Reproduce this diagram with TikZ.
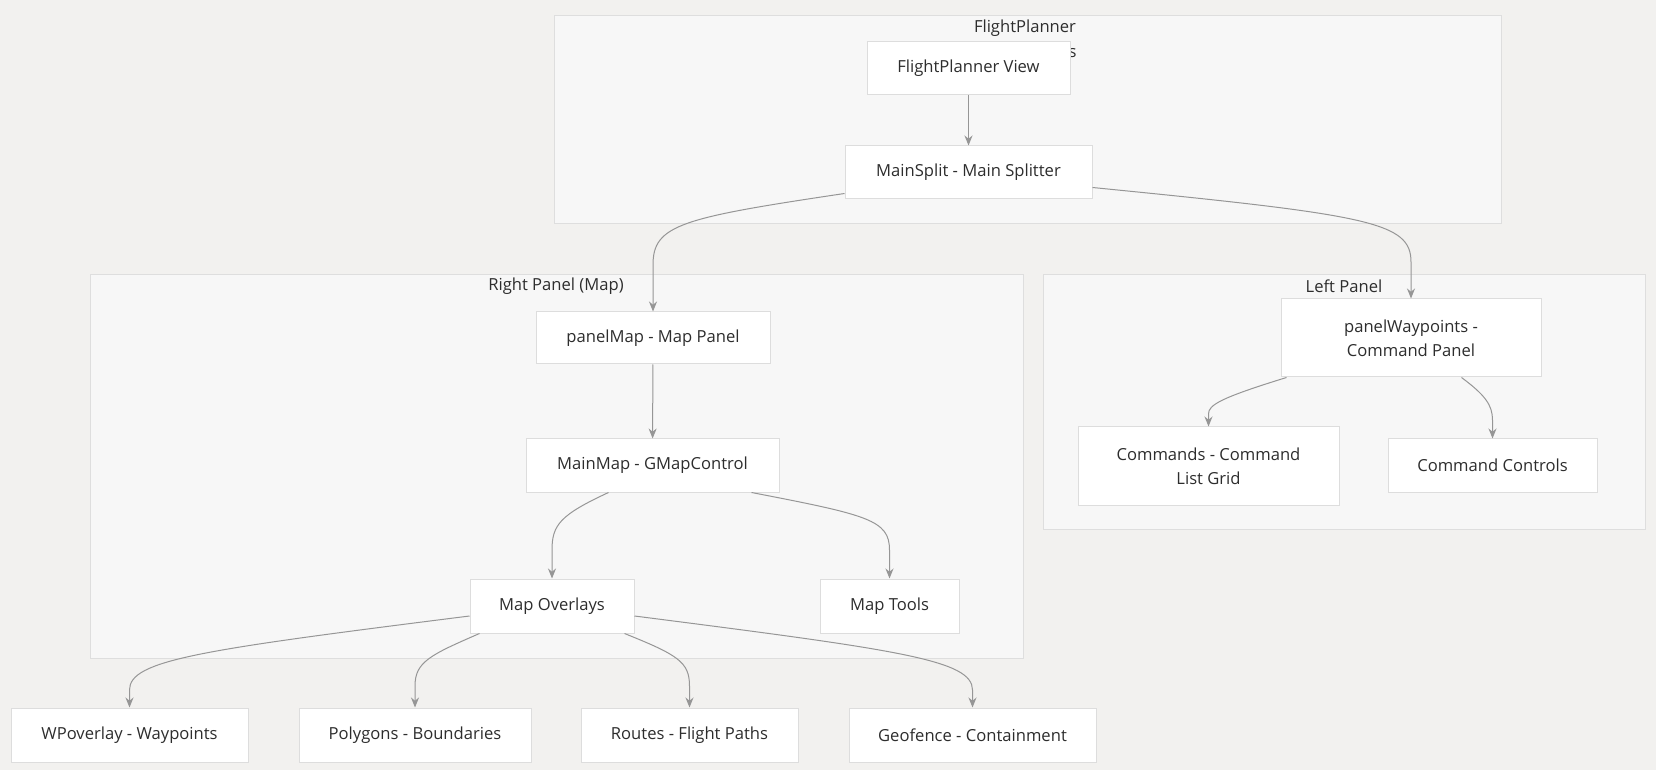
\documentclass[tikz,border=0pt]{standalone}
\usepackage{fontspec}
\setmainfont{Open Sans}
\usetikzlibrary{arrows.meta}
\definecolor{bgc}{RGB}{242,241,239}
\definecolor{clfill}{RGB}{247,247,247}
\definecolor{clline}{RGB}{222,222,222}
\definecolor{ndline}{RGB}{221,221,221}
\definecolor{edgec}{RGB}{150,150,150}
\definecolor{txt}{RGB}{45,45,45}
\tikzset{
  box/.style={draw=ndline, fill=white, line width=0.5pt, inner sep=0pt, align=center,
    text=txt, font=\fontsize{8.3}{12}\selectfont},
  cluster/.style={draw=clline, fill=clfill, line width=0.5pt},
  ctitle/.style={text=txt, font=\fontsize{8.3}{12}\selectfont, inner sep=0pt},
  edge/.style={draw=edgec, line width=0.5pt, -{Stealth[length=5pt,width=4pt]}},
}
\begin{document}
\begin{tikzpicture}[x=0.5pt,y=-0.5pt]
\fill[bgc] (0,0) rectangle (1656,770);
\useasboundingbox (0,0) rectangle (1656,770);
% clusters
\draw[cluster] (554,16) rectangle (1501,224);
\draw[cluster] (90,275) rectangle (1023,658);
\draw[cluster] (1043,275) rectangle (1645,529);
\node[ctitle] (tfp) at (1025,28) {FlightPlanner};
\node[ctitle, anchor=east] (tfp2) at (1077,53) {Components};
\node[ctitle] (trp) at (556,286) {Right Panel (Map)};
\node[ctitle] (tlp) at (1344,286) {Left Panel};
% nodes
\node[box, minimum width=101.5pt, minimum height=26.5pt] (view) at (968.5,68.5) {FlightPlanner View};
\node[box, minimum width=123.5pt, minimum height=26.5pt] (split) at (968.5,172.5) {MainSplit - Main Splitter};
\node[box, minimum width=117pt, minimum height=26pt] (pmap) at (653,338) {panelMap - Map Panel};
\node[box, minimum width=126.5pt, minimum height=26.5pt] (mmap) at (652.5,465.5) {MainMap - GMapControl};
\node[box, minimum width=82pt, minimum height=27pt] (ovl) at (552,606) {Map Overlays};
\node[box, minimum width=69.5pt, minimum height=27pt] (tools) at (889.5,606) {Map Tools};
\node[box, minimum width=118.5pt, minimum height=27pt] (wp) at (129.5,735) {WPoverlay - Waypoints};
\node[box, minimum width=116pt, minimum height=27pt] (poly) at (415,735) {Polygons - Boundaries};
\node[box, minimum width=108.5pt, minimum height=27pt] (routes) at (689.5,735) {Routes - Flight Paths};
\node[box, minimum width=123.5pt, minimum height=27pt] (geo) at (972.5,735) {Geofence - Containment};
\node[box, minimum width=130pt, minimum height=39pt] (pwp) at (1411,338) {panelWaypoints -\\Command Panel};
\node[box, minimum width=130.5pt, minimum height=39pt] (cmds) at (1208.5,466) {Commands - Command\\List Grid};
\node[box, minimum width=104.5pt, minimum height=26.5pt] (ctrls) at (1492.5,465.5) {Command Controls};
% edges
\draw[edge] (view) -- (split);
\draw[edge] (split.south west) ++(0,-6) .. controls (680,218) and (653,225) .. (653,265) -- (pmap.north);
\draw[edge] (split.south east) ++(0,-12) .. controls (1370,215) and (1411,222) .. (1411,262) -- (pwp.north);
\draw[edge] (pmap) -- (mmap);
\draw[edge] (mmap.south) ++(-44,0) .. controls (560,515) and (552,525) .. (552,550) -- (ovl.north);
\draw[edge] (mmap.south) ++(99,0) .. controls (868,515) and (889.5,520) .. (889.5,550) -- (tools.north);
\draw[edge] (ovl.west) ++(0,10) .. controls (200,650) and (129.5,660) .. (129.5,690) -- (wp.north);
\draw[edge] (ovl.south west) ++(10,0) .. controls (430,655) and (415,662) .. (415,686) -- (poly.north);
\draw[edge] (ovl.south east) ++(-10,0) .. controls (678,655) and (689.5,662) .. (689.5,686) -- (routes.north);
\draw[edge] (ovl.east) ++(0,10) .. controls (900,650) and (972.5,660) .. (972.5,690) -- (geo.north);
\draw[edge] (pwp.south west) ++(6,0) .. controls (1220,398) and (1208.5,405) .. (1208.5,414) -- (cmds.north);
\draw[edge] (pwp.south east) ++(-80,0) .. controls (1485,395) and (1492.5,405) .. (1492.5,420) -- (ctrls.north);
\end{tikzpicture}
\end{document}
